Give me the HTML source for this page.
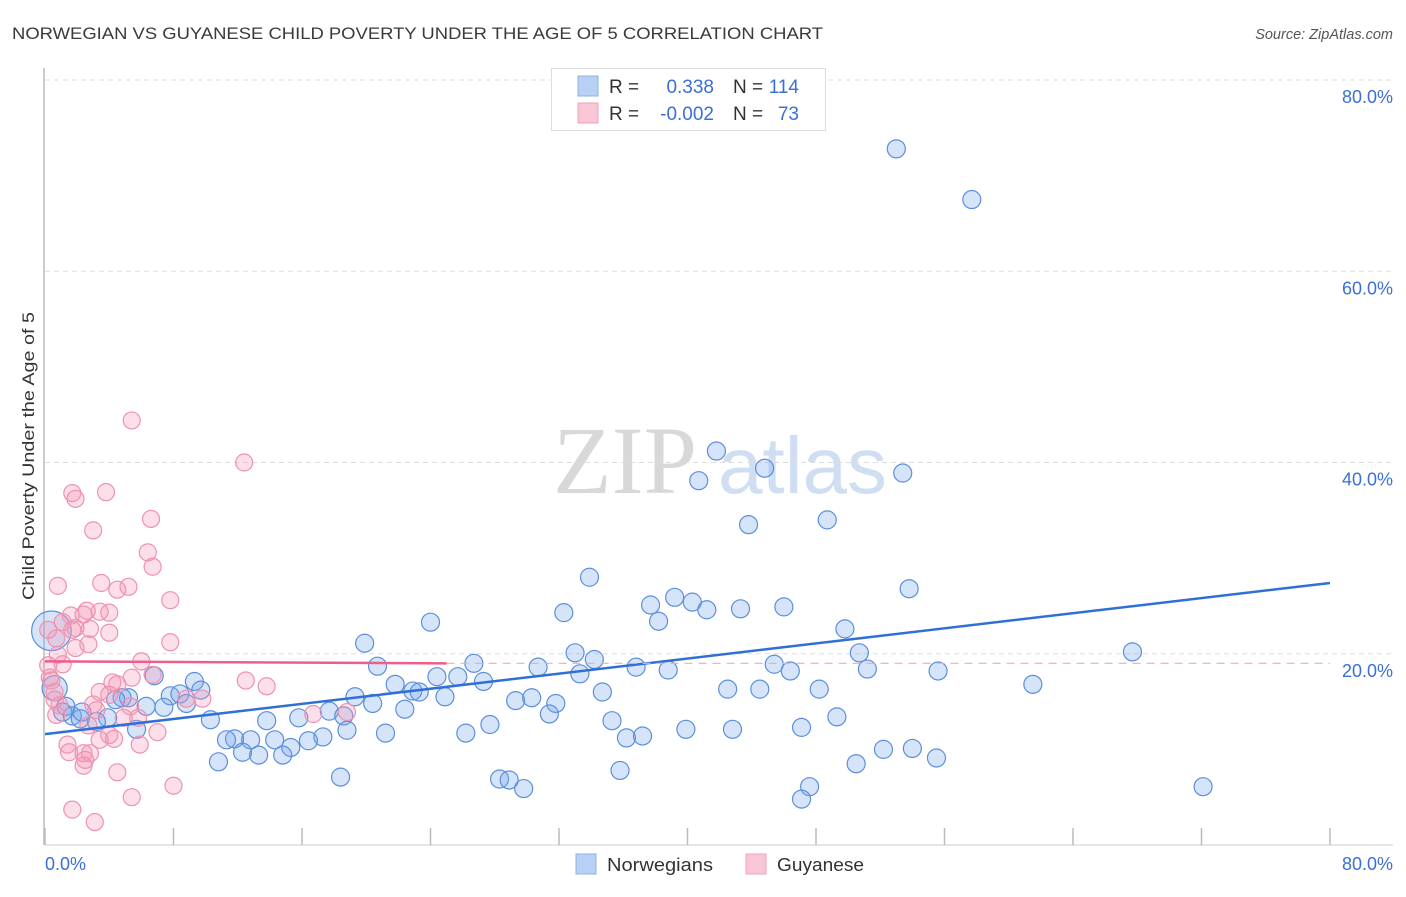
<!DOCTYPE html>
<html><head><meta charset="utf-8"><style>
body{margin:0;background:#fff;font-family:"Liberation Sans",sans-serif;}
svg text{font-family:"Liberation Sans",sans-serif;}
</style></head><body>
<svg id="chart" width="1406" height="892">
<text x="12" y="39" font-size="17" fill="#3a3a3a" textLength="811" lengthAdjust="spacingAndGlyphs">NORWEGIAN VS GUYANESE CHILD POVERTY UNDER THE AGE OF 5 CORRELATION CHART</text>
<text x="1393" y="39" font-size="14.5" fill="#555" font-style="italic" text-anchor="end">Source: ZipAtlas.com</text>
<text transform="translate(34,456) rotate(-90)" font-size="17" fill="#333" text-anchor="middle" textLength="288" lengthAdjust="spacingAndGlyphs">Child Poverty Under the Age of 5</text>
<g>
<text x="553" y="493" font-size="96" fill="#d8d8d8" style="font-family:'Liberation Serif',serif">ZIP</text>
<text x="718" y="493" font-size="80" fill="#d0def2">atlas</text>
</g>
<g id="grid"></g><g id="axes"></g><g id="marks"></g><g id="trends"></g>
<g>
<rect x="551.5" y="68.5" width="274" height="62" fill="#fff" stroke="#ddd"/>
<rect x="578" y="76" width="20" height="20" fill="#b7d0f4" stroke="#8fb0e4"/>
<rect x="578" y="103" width="20" height="20" fill="#f9c6d5" stroke="#eea0b8"/>
<text x="609" y="93" font-size="19" fill="#333">R =</text>
<text x="714" y="93" font-size="19" fill="#3b6fd4" text-anchor="end">0.338</text>
<text x="733" y="93" font-size="19" fill="#333">N =</text>
<text x="799" y="93" font-size="19" fill="#3b6fd4" text-anchor="end">114</text>
<text x="609" y="120" font-size="19" fill="#333">R =</text>
<text x="714" y="120" font-size="19" fill="#3b6fd4" text-anchor="end">-0.002</text>
<text x="733" y="120" font-size="19" fill="#333">N =</text>
<text x="799" y="120" font-size="19" fill="#3b6fd4" text-anchor="end">73</text>
</g>
<g>
<rect x="576" y="854" width="20" height="20" fill="#b7d0f4" stroke="#8fb0e4"/>
<text x="607" y="871" font-size="18" fill="#333" textLength="106" lengthAdjust="spacingAndGlyphs">Norwegians</text>
<rect x="746" y="854" width="20" height="20" fill="#f9c6d5" stroke="#eea0b8"/>
<text x="777" y="871" font-size="18" fill="#333" textLength="87" lengthAdjust="spacingAndGlyphs">Guyanese</text>
</g>
</svg>
<script>
const blueX=[53.0,57.7,41.8,44.8,40.7,53.4,43.8,48.7,33.9,53.8,37.7,39.2,40.3,41.2,43.3,46.0,38.2,32.3,24.0,49.8,19.9,67.7,33.0,34.2,50.7,36.8,38.8,45.4,46.4,51.2,55.6,33.3,20.7,26.7,30.7,25.7,27.3,24.4,21.8,61.5,42.5,44.5,48.2,34.7,6.8,9.3,9.7,7.8,8.4,8.8,7.4,6.3,5.2,4.8,4.4,19.3,22.9,23.3,24.9,29.3,30.3,31.8,22.4,20.4,17.7,15.8,18.6,10.3,13.8,35.3,31.4,49.3,1.3,1.1,1.7,2.2,3.9,5.7,3.2,27.7,39.9,42.8,47.1,26.2,21.2,18.8,17.3,16.4,15.3,14.3,12.8,11.8,11.3,12.3,13.3,14.8,10.8,36.2,37.2,52.2,54.0,50.5,55.5,35.8,18.4,28.3,28.9,29.8,47.6,47.1,72.1,0.4,0.6,2.3];
const blueY=[72.8,67.5,41.2,39.4,38.1,38.9,33.5,34.0,28.0,26.8,25.1,25.9,25.4,24.6,24.7,24.9,23.4,24.3,23.3,22.6,21.1,20.2,20.1,19.4,20.1,18.6,18.3,18.9,18.2,18.4,18.2,17.9,18.7,19.0,18.6,17.6,17.1,17.6,16.8,16.8,16.3,16.3,16.3,16.0,17.7,17.1,16.2,15.6,15.8,14.8,14.4,14.5,15.4,15.4,15.2,15.5,16.1,16.0,15.5,15.1,15.4,14.8,14.2,14.8,14.0,13.3,13.5,13.1,13.0,13.0,13.7,13.4,14.5,13.9,13.5,13.2,13.3,12.1,12.9,12.6,12.1,12.1,12.3,11.7,11.7,12.0,11.3,10.9,10.2,11.0,11.0,11.1,11.0,9.7,9.4,9.4,8.7,11.2,11.4,10.0,10.1,8.5,9.1,7.8,7.1,6.9,6.8,5.9,6.1,4.8,6.1,22.4,16.4,13.9];
const blueSize=[];blueSize[111]=2.2;blueSize[112]=1.4;
const pinkX=[5.4,12.4,1.7,1.9,3.8,6.6,3.0,6.4,6.7,7.8,0.8,3.5,4.5,5.2,1.6,2.6,2.4,4.0,3.4,1.1,1.9,1.7,2.8,4.0,7.8,1.9,2.7,0.7,0.2,0.8,1.1,6.0,12.5,13.8,6.7,5.4,0.2,0.4,0.6,3.4,4.5,4.2,8.8,9.8,0.6,0.9,3.0,3.2,5.3,4.9,5.8,4.0,4.3,7.0,5.9,3.4,1.4,1.5,2.4,2.8,0.7,2.7,4.5,2.4,8.0,5.4,1.7,3.1,16.7,18.8,4.0,2.5,0.3];
const pinkY=[44.4,40.0,36.8,36.2,36.9,34.1,32.9,30.6,29.1,25.6,27.1,27.4,26.7,27.0,24.0,24.5,24.1,24.3,24.4,23.3,22.7,22.5,22.6,22.2,21.2,20.6,21.0,21.6,22.5,19.9,18.9,19.2,17.2,16.6,17.8,17.5,18.8,17.2,16.0,16.0,16.8,17.0,15.3,15.3,15.2,14.6,14.7,14.1,14.5,13.3,13.3,11.5,11.1,11.8,10.5,11.0,10.5,9.7,9.6,9.6,13.6,12.5,7.6,8.3,6.2,5.0,3.7,2.4,13.7,13.9,15.7,8.9,17.5];
const blueTrend=[[0,11.6],[80,27.4]];
const pinkTrend=[[0,19.2],[25,19.0]];
const pinkTrendExt=[[25,19.0],[80,19.0]];
const yTicks=[20,40,60,80];
const xTickVals=[0,8,16,24,32,40,48,56,64,72,80];
const NS='http://www.w3.org/2000/svg';
const X0=45,X1=1330,Y0=845,Y80=80;
function sx(v){return X0+(X1-X0)*v/80;}
function sy(v){return Y0-(Y0-Y80)*v/80;}
function mk(tag,attrs,parent){const e=document.createElementNS(NS,tag);for(const k in attrs)e.setAttribute(k,attrs[k]);parent.appendChild(e);return e;}
const grid=document.getElementById('grid'),axes=document.getElementById('axes'),marks=document.getElementById('marks'),trends=document.getElementById('trends');
yTicks.forEach(t=>{
 const l=mk('line',{x1:X0,x2:1393,y1:sy(t),y2:sy(t),stroke:'#ddd','stroke-dasharray':'5,4'},grid);
 
 
 const tx=mk('text',{x:1393,y:sy(t)+23,'font-size':18,fill:'#3b6fd4','text-anchor':'end'},axes);
 tx.textContent=t.toFixed(1)+'%';
 
 
});
const ax=mk('line',{x1:44,x2:44,y1:68,y2:Y0,stroke:'#bbb','stroke-width':1.5},axes);


const bx=mk('line',{x1:X0,x2:1393,y1:Y0,y2:Y0,stroke:'#ccc'},axes);


xTickVals.forEach(t=>{
 const l=mk('line',{x1:sx(t),x2:sx(t),y1:828,y2:Y0,stroke:'#bbb','stroke-width':1.5},axes);
 
 
});
[[0,'start',45],[80,'end',1393]].forEach(([v,a,x])=>{
 const t=mk('text',{x:x,y:870,'font-size':18,fill:'#3b6fd4','text-anchor':a},axes);
 t.textContent=v.toFixed(1)+'%';
 
 
});
blueX.forEach((v,i)=>{
 const c=mk('circle',{cx:sx(v),cy:sy(blueY[i]),r:9*(blueSize[i]||1),fill:'rgba(120,165,235,0.3)',stroke:'#5b8fdc','stroke-width':1.2},marks);
 
 
});
pinkX.forEach((v,i)=>{
 const c=mk('circle',{cx:sx(v),cy:sy(pinkY[i]),r:8.5,fill:'rgba(245,150,180,0.3)',stroke:'#ec93b0','stroke-width':1.2},marks);
 
 
});
const bt=mk('line',{x1:sx(blueTrend[0][0]),y1:sy(blueTrend[0][1]),x2:sx(blueTrend[1][0]),y2:sy(blueTrend[1][1]),stroke:'#2f6fd6','stroke-width':2.5},trends);


const pe=mk('line',{x1:sx(pinkTrendExt[0][0]),y1:sy(pinkTrendExt[0][1]),x2:sx(pinkTrendExt[1][0]),y2:sy(pinkTrendExt[1][1]),stroke:'#f0a8bf','stroke-width':1.2,'stroke-dasharray':'8,6'},trends);


const pt=mk('line',{x1:sx(pinkTrend[0][0]),y1:sy(pinkTrend[0][1]),x2:sx(pinkTrend[1][0]),y2:sy(pinkTrend[1][1]),stroke:'#ec5f8a','stroke-width':2.5},trends);


</script>
</body></html>
